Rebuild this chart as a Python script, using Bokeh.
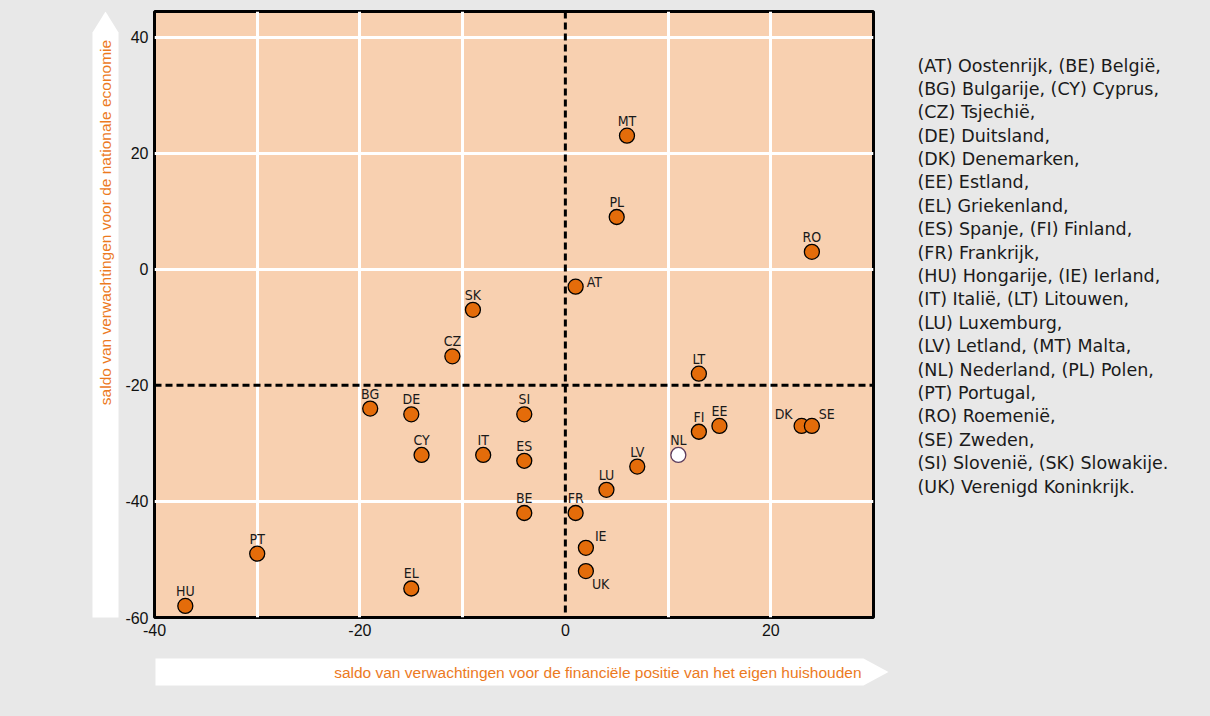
from math import pi
from bokeh.plotting import figure
from bokeh.layouts import row, column
from bokeh.models import ColumnDataSource, Span, FixedTicker, GlobalInlineStyleSheet
from bokeh.core.properties import value
from bokeh.embed import file_html
from bokeh.resources import INLINE

# ---- data -------------------------------------------------------------
codes = ["AT", "BE", "BG", "CY", "CZ", "DE", "DK", "EE", "EL", "ES", "FI", "FR",
         "HU", "IE", "IT", "LT", "LU", "LV", "MT", "NL", "PL", "PT", "RO", "SE",
         "SI", "SK", "UK"]
household = [1, -4, -19, -14, -11, -15, 23, 15, -15, -4, 13, 1,
             -37, 2, -8, 13, 4, 7, 6, 11, 5, -30, 24, 24,
             -4, -9, 2]
economy = [-3, -42, -24, -32, -15, -25, -27, -27, -55, -33, -28, -42,
           -58, -48, -32, -18, -38, -34, 23, -32, 9, -49, 3, -27,
           -25, -7, -52]
highlight = "NL"

x_ticks = [-40, -20, 0, 20]
y_ticks = [-60, -40, -20, 0, 20, 40]

x_title = "saldo van verwachtingen voor de financiële positie van het eigen huishouden"
y_title = "saldo van verwachtingen voor de nationale economie"

legend_lines = [
    "(AT) Oostenrijk, (BE) België,",
    "(BG) Bulgarije, (CY) Cyprus,",
    "(CZ) Tsjechië,",
    "(DE) Duitsland,",
    "(DK) Denemarken,",
    "(EE) Estland,",
    "(EL) Griekenland,",
    "(ES) Spanje, (FI) Finland,",
    "(FR) Frankrijk,",
    "(HU) Hongarije, (IE) Ierland,",
    "(IT) Italië, (LT) Litouwen,",
    "(LU) Luxemburg,",
    "(LV) Letland,  (MT) Malta,",
    "(NL) Nederland, (PL) Polen,",
    "(PT) Portugal,",
    "(RO) Roemenië,",
    "(SE) Zweden,",
    "(SI) Slovenië, (SK) Slowakije.",
    "(UK) Verenigd Koninkrijk.",
]

# ---- layout / styling -------------------------------------------------
TOP_H = 645          # height of the upper row
BOT_H = 716 - TOP_H  # height of the strip with the x-axis title
LEFT_W = 120         # panel with the y-axis title
MAIN_W = 780         # main chart (page x 120..900)
RIGHT_W = 1210 - LEFT_W - MAIN_W
FRAME_TOP, FRAME_BOT = 11, 617   # page y of the plot frame (shared by the row)

ORANGE = "#e46c0a"
TEXT_ORANGE = "#ec7a1e"
PEACH = "#f8d0b0"
GREY = "#e8e8e8"
LABEL_FONT = "DejaVu Sans Condensed"
TITLE_FONT = "Liberation Sans"


def panel(w, h, y_range):
    f = figure(width=w, height=h, x_range=(0, w), y_range=y_range,
               output_backend="svg", toolbar_location=None,
               x_axis_location=None, y_axis_location=None, min_border=0)
    f.grid.visible = False
    f.outline_line_color = None
    f.background_fill_color = GREY
    f.border_fill_color = GREY
    return f


# ---- main chart -------------------------------------------------------
special = {
    "AT": (11, -5, "left"),
    "IE": (9, -12, "left"),
    "UK": (6, 13, "left"),
    "DK": (-9, -12, "right"),
    "SE": (7, -12, "left"),
}
dxs, dys, aligns = [], [], []
for c in codes:
    dx, dy, al = special.get(c, (0, -15, "center"))
    dxs.append(dx); dys.append(dy); aligns.append(al)

fills = ["white" if c == highlight else ORANGE for c in codes]
lines = ["#5b3b5b" if c == highlight else "black" for c in codes]

src = ColumnDataSource(dict(x=household, y=economy, code=codes,
                            dx=dxs, dy=dys, align=aligns, fill=fills, line=lines))

p = figure(width=MAIN_W, height=TOP_H, x_range=(-40, 30), y_range=(-60, 44.4),
           output_backend="svg", toolbar_location=None,
           min_border_left=34, min_border_right=27,
           min_border_top=FRAME_TOP, min_border_bottom=TOP_H - FRAME_BOT)
p.background_fill_color = PEACH
p.border_fill_color = GREY
p.outline_line_color = "black"
p.outline_line_width = 3

p.xaxis.ticker = FixedTicker(ticks=x_ticks)
p.yaxis.ticker = FixedTicker(ticks=y_ticks)
p.xaxis.major_label_overrides = {t: str(t) for t in x_ticks}
p.yaxis.major_label_overrides = {t: str(t) for t in y_ticks}
p.xgrid.ticker = FixedTicker(ticks=[-30, -20, -10, 10, 20])
p.ygrid.ticker = FixedTicker(ticks=[-40, 0, 20, 40])
for g in (p.xgrid, p.ygrid):
    g.grid_line_color = "white"
    g.grid_line_width = 3
for ax in (p.xaxis, p.yaxis):
    ax.axis_line_color = None
    ax.major_tick_line_color = None
    ax.minor_tick_line_color = None
    ax.major_tick_out = 0
    ax.major_tick_in = 0
    ax.minor_tick_out = 0
    ax.minor_tick_in = 0
    ax.major_label_text_font = "Liberation Sans"
    ax.major_label_text_font_size = "16px"
    ax.major_label_text_color = "#111111"
p.xaxis.major_label_standoff = 6
p.yaxis.major_label_standoff = 6

p.add_layout(Span(location=0, dimension="height", line_color="black",
                  line_width=3, line_dash="7 4"))
p.add_layout(Span(location=-20, dimension="width", line_color="black",
                  line_width=3, line_dash="7 4"))

p.scatter("x", "y", source=src, size=15, fill_color="fill", line_color="line",
          line_width=1.3)
p.text("x", "y", text="code", source=src, x_offset="dx", y_offset="dy",
       text_align="align", text_baseline="middle",
       text_font=value(LABEL_FONT), text_font_size="14px", text_color="#1a1a1a")

# side panels share the main plot's frame rows, so map page y onto that span
ly = lambda py: TOP_H - py   # page y (top-down) -> panel y
side_range = (ly(FRAME_BOT), ly(FRAME_TOP))

# ---- left panel: y-axis title on a white upward arrow ----------------
left = panel(LEFT_W, TOP_H, side_range)
left.patch([92, 92, 105, 118, 118], [ly(622), ly(32), ly(11), ly(32), ly(622)],
           fill_color="white", line_color=None)
left.text([105], [ly(222)], text=[y_title], angle=pi / 2,
          text_align="center", text_baseline="middle",
          text_font=value(TITLE_FONT), text_font_size="15.5px", text_color=TEXT_ORANGE)

# ---- right panel: country legend -------------------------------------
right = panel(RIGHT_W, TOP_H, side_range)
right.text([917 - LEFT_W - MAIN_W] * len(legend_lines),
           [ly(65 + 23.39 * i) for i in range(len(legend_lines))],
           text=legend_lines, text_align="left", text_baseline="middle",
           text_font=value("DejaVu Sans"), text_font_size="17.5px", text_color="#1a1a1a")

# ---- bottom strip: x-axis title on a white rightward arrow -----------
bottom = panel(1210, BOT_H, (0, BOT_H))
by = lambda py: TOP_H + BOT_H - py
bottom.patch([155, 863, 888, 863, 155], [by(658), by(658), by(671.5), by(685), by(685)],
             fill_color="white", line_color=None)
bottom.text([861], [by(671.5)], text=[x_title], text_align="right", text_baseline="middle",
            text_font=value(TITLE_FONT), text_font_size="15.5px", text_color=TEXT_ORANGE)

page_css = GlobalInlineStyleSheet(css="html, body { background-color: #e8e8e8; }")
top_row = row(left, p, right, spacing=0, styles={"background-color": GREY})
layout = column(top_row, bottom, spacing=0,
                styles={"background-color": GREY}, stylesheets=[page_css])

open("out.html", "w").write(file_html(layout, INLINE))
